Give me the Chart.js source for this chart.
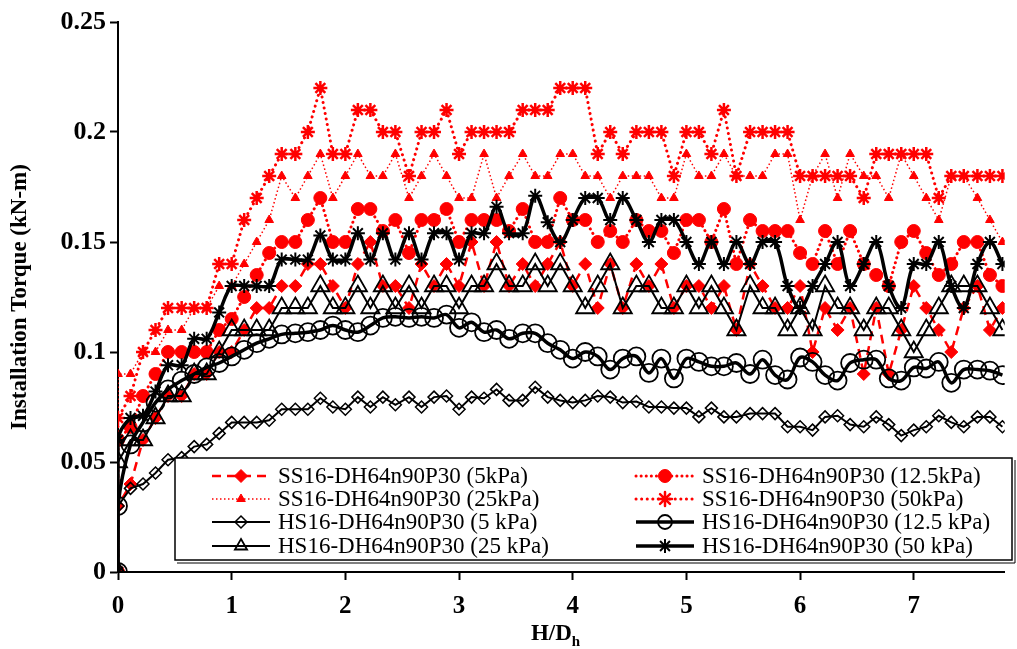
<!DOCTYPE html>
<html>
<head>
<meta charset="utf-8">
<script src="https://cdn.jsdelivr.net/npm/chart.js@4.4.1/dist/chart.umd.min.js"></script>
<style>
  html, body { margin: 0; padding: 0; background: #fff; }
</style>
</head>
<body>
<canvas id="torqueChart" width="1017" height="649"></canvas>
<script>
// H/Dh depth ratio (first two points both sit on the axis)
const depthRatio = [0, 0,
  0.11, 0.22, 0.33, 0.44, 0.56, 0.67, 0.78, 0.89, 1,
  1.11, 1.22, 1.33, 1.44, 1.56, 1.67, 1.78, 1.89, 2,
  2.11, 2.22, 2.33, 2.44, 2.56, 2.67, 2.78, 2.89, 3,
  3.11, 3.22, 3.33, 3.44, 3.56, 3.67, 3.78, 3.89, 4,
  4.11, 4.22, 4.33, 4.44, 4.56, 4.67, 4.78, 4.89, 5,
  5.11, 5.22, 5.33, 5.44, 5.56, 5.67, 5.78, 5.89, 6,
  6.11, 6.22, 6.33, 6.44, 6.56, 6.67, 6.78, 6.89, 7,
  7.11, 7.22, 7.33, 7.44, 7.56, 7.67, 7.78];

const ss5kPa = [0, 0.03, 0.04, 0.06, 0.07, 0.08, 0.08, 0.09, 0.09, 0.10, 0.10,
  0.11, 0.12, 0.12, 0.13, 0.13, 0.14, 0.14, 0.13, 0.12,
  0.14, 0.15, 0.13, 0.13, 0.12, 0.14, 0.13, 0.14, 0.13,
  0.15, 0.13, 0.15, 0.13, 0.14, 0.13, 0.14, 0.15, 0.13,
  0.14, 0.12, 0.14, 0.12, 0.14, 0.13, 0.14, 0.12, 0.13,
  0.13, 0.12, 0.13, 0.11, 0.14, 0.13, 0.12, 0.12, 0.13,
  0.10, 0.12, 0.11, 0.12, 0.09, 0.12, 0.09, 0.11, 0.13,
  0.12, 0.11, 0.10, 0.12, 0.13, 0.11, 0.12];

const ss12kPa = [0, 0.06, 0.066, 0.08, 0.09, 0.10, 0.10, 0.10, 0.10, 0.11, 0.115,
  0.125, 0.135, 0.145, 0.15, 0.15, 0.16, 0.17, 0.15, 0.15,
  0.165, 0.165, 0.155, 0.16, 0.145, 0.16, 0.16, 0.165, 0.15,
  0.16, 0.16, 0.16, 0.155, 0.165, 0.15, 0.15, 0.17, 0.16,
  0.16, 0.15, 0.155, 0.15, 0.16, 0.155, 0.155, 0.145, 0.16,
  0.16, 0.15, 0.165, 0.14, 0.16, 0.155, 0.155, 0.155, 0.145,
  0.14, 0.155, 0.14, 0.155, 0.14, 0.135, 0.13, 0.15, 0.155,
  0.145, 0.135, 0.14, 0.15, 0.15, 0.135, 0.13];

const ss25kPa = [0, 0.09, 0.09, 0.10, 0.10, 0.11, 0.11, 0.12, 0.12, 0.13, 0.13,
  0.14, 0.15, 0.16, 0.18, 0.17, 0.18, 0.19, 0.17, 0.18,
  0.19, 0.18, 0.18, 0.19, 0.17, 0.18, 0.19, 0.18, 0.17,
  0.17, 0.19, 0.17, 0.18, 0.19, 0.18, 0.18, 0.19, 0.19,
  0.18, 0.18, 0.17, 0.18, 0.18, 0.18, 0.17, 0.17, 0.19,
  0.18, 0.18, 0.19, 0.18, 0.18, 0.18, 0.19, 0.19, 0.16,
  0.18, 0.19, 0.17, 0.19, 0.18, 0.18, 0.17, 0.19, 0.18,
  0.17, 0.16, 0.18, 0.18, 0.17, 0.16, 0.15];

const ss50kPa = [0, 0.07, 0.08, 0.10, 0.11, 0.12, 0.12, 0.12, 0.12, 0.14, 0.14,
  0.16, 0.17, 0.18, 0.19, 0.19, 0.20, 0.22, 0.19, 0.19,
  0.21, 0.21, 0.20, 0.20, 0.18, 0.20, 0.20, 0.21, 0.19,
  0.20, 0.20, 0.20, 0.20, 0.21, 0.21, 0.21, 0.22, 0.22,
  0.22, 0.19, 0.20, 0.19, 0.20, 0.20, 0.20, 0.18, 0.20,
  0.20, 0.19, 0.21, 0.18, 0.20, 0.20, 0.20, 0.20, 0.18,
  0.18, 0.18, 0.18, 0.18, 0.17, 0.19, 0.19, 0.19, 0.19,
  0.19, 0.17, 0.18, 0.18, 0.18, 0.18, 0.18];

const hs5kPa = [0, 0.030, 0.038, 0.040, 0.045, 0.051, 0.052, 0.057, 0.058, 0.063, 0.068,
  0.068, 0.068, 0.069, 0.074, 0.074, 0.074, 0.079, 0.075, 0.074,
  0.0795, 0.075, 0.0795, 0.076, 0.0795, 0.075, 0.0795, 0.080, 0.074,
  0.0795, 0.079, 0.083, 0.078, 0.078, 0.084, 0.0795, 0.078, 0.077,
  0.078, 0.080, 0.0795, 0.077, 0.0775, 0.075, 0.075, 0.0745, 0.0745,
  0.0705, 0.0745, 0.0705, 0.0705, 0.072, 0.072, 0.072, 0.066, 0.066,
  0.0645, 0.0705, 0.071, 0.067, 0.066, 0.0705, 0.067, 0.062, 0.0645,
  0.066, 0.071, 0.068, 0.066, 0.0705, 0.0705, 0.066];

const hs12kPa = [0, 0.030, 0.058, 0.068, 0.077, 0.083, 0.087, 0.090, 0.093, 0.095, 0.098,
  0.101, 0.104, 0.106, 0.108, 0.1085, 0.109, 0.110, 0.112, 0.110,
  0.109, 0.112, 0.1155, 0.116, 0.1155, 0.116, 0.1155, 0.117, 0.111,
  0.1135, 0.109, 0.110, 0.106, 0.1085, 0.1085, 0.104, 0.101, 0.097,
  0.100, 0.098, 0.092, 0.097, 0.098, 0.0905, 0.097, 0.088, 0.097,
  0.0955, 0.0935, 0.0935, 0.095, 0.090, 0.0965, 0.0895, 0.0875, 0.0975,
  0.0955, 0.0895, 0.087, 0.095, 0.0965, 0.0965, 0.088, 0.087, 0.093,
  0.0925, 0.0955, 0.086, 0.092, 0.092, 0.0915, 0.0895];

const hs25kPa = [0, 0.05, 0.06, 0.06, 0.07, 0.08, 0.08, 0.09, 0.09, 0.10, 0.11,
  0.11, 0.11, 0.11, 0.12, 0.12, 0.12, 0.13, 0.12, 0.12,
  0.13, 0.12, 0.13, 0.12, 0.13, 0.12, 0.13, 0.13, 0.12,
  0.13, 0.13, 0.14, 0.13, 0.13, 0.14, 0.13, 0.14, 0.13,
  0.12, 0.13, 0.14, 0.12, 0.13, 0.13, 0.12, 0.12, 0.13,
  0.12, 0.13, 0.12, 0.11, 0.13, 0.12, 0.12, 0.11, 0.12,
  0.11, 0.13, 0.12, 0.12, 0.11, 0.12, 0.12, 0.11, 0.10,
  0.11, 0.12, 0.13, 0.13, 0.13, 0.12, 0.11];

const hs50kPa = [0, 0.06, 0.07, 0.071, 0.082, 0.094, 0.094, 0.106, 0.106, 0.118, 0.13,
  0.13, 0.13, 0.13, 0.142, 0.142, 0.142, 0.153, 0.142, 0.142,
  0.154, 0.142, 0.154, 0.142, 0.154, 0.142, 0.154, 0.154, 0.142,
  0.154, 0.154, 0.166, 0.154, 0.154, 0.171, 0.159, 0.15, 0.16,
  0.17, 0.17, 0.16, 0.17, 0.16, 0.15, 0.16, 0.16, 0.15,
  0.14, 0.15, 0.14, 0.15, 0.14, 0.15, 0.15, 0.13, 0.12,
  0.13, 0.14, 0.15, 0.13, 0.14, 0.15, 0.13, 0.12, 0.14,
  0.14, 0.15, 0.13, 0.12, 0.14, 0.15, 0.14];

const seriesLabels = [
  "SS16-DH64n90P30 (5kPa)",
  "SS16-DH64n90P30 (12.5kPa)",
  "SS16-DH64n90P30 (25kPa)",
  "SS16-DH64n90P30 (50kPa)",
  "HS16-DH64n90P30 (5 kPa)",
  "HS16-DH64n90P30 (12.5 kPa)",
  "HS16-DH64n90P30 (25 kPa)",
  "HS16-DH64n90P30 (50 kPa)",
];

const xTicks = [0, 1, 2, 3, 4, 5, 6, 7];
const xTickLabels = ["0", "1", "2", "3", "4", "5", "6", "7"];
const yTicks = [0, 0.05, 0.1, 0.15, 0.2, 0.25];
const yTickLabels = ["0", "0.05", "0.1", "0.15", "0.2", "0.25"];

const serif = "'Liberation Serif', 'Times New Roman', serif";
const red = "#ff0000";
const clear = "rgba(0,0,0,0)";

const toPoints = (values) => values.map((v, i) => ({ x: depthRatio[i], y: v }));

const datasets = [
  {
    label: seriesLabels[0], data: toPoints(ss5kPa),
    borderColor: red, borderWidth: 2.5, borderDash: [9, 6],
    pointStyle: "rectRot", pointRadius: 6.5, pointBackgroundColor: red, pointBorderColor: red, pointBorderWidth: 1,
  },
  {
    label: seriesLabels[1], data: toPoints(ss12kPa),
    borderColor: red, borderWidth: 3, borderDash: [0.1, 5], borderCapStyle: "round",
    pointStyle: "circle", pointRadius: 6.5, pointBackgroundColor: red, pointBorderColor: red, pointBorderWidth: 1,
  },
  {
    label: seriesLabels[2], data: toPoints(ss25kPa),
    borderColor: red, borderWidth: 1.5, borderDash: [1.5, 2.5],
    pointStyle: "triangle", pointRadius: 5, pointBackgroundColor: red, pointBorderColor: red, pointBorderWidth: 1,
  },
  {
    label: seriesLabels[3], data: toPoints(ss50kPa),
    borderColor: red, borderWidth: 3, borderDash: [0.1, 5.5], borderCapStyle: "round",
    pointStyle: "star", pointRadius: 7, pointBackgroundColor: red, pointBorderColor: red, pointBorderWidth: 2.5,
  },
  {
    label: seriesLabels[4], data: toPoints(hs5kPa),
    borderColor: "#000", borderWidth: 2,
    pointStyle: "rectRot", pointRadius: 6, pointBackgroundColor: clear, pointBorderColor: "#000", pointBorderWidth: 1.5,
  },
  {
    label: seriesLabels[5], data: toPoints(hs12kPa),
    borderColor: "#000", borderWidth: 3.5, tension: 0.35,
    pointStyle: "circle", pointRadius: 9, pointBackgroundColor: clear, pointBorderColor: "#000", pointBorderWidth: 1.8,
  },
  {
    label: seriesLabels[6], data: toPoints(hs25kPa),
    borderColor: "#000", borderWidth: 2,
    pointStyle: "triangle", pointRadius: 10.5, pointBackgroundColor: clear, pointBorderColor: "#000", pointBorderWidth: 1.8,
  },
  {
    label: seriesLabels[7], data: toPoints(hs50kPa),
    borderColor: "#000", borderWidth: 3.5, tension: 0.35,
    pointStyle: "star", pointRadius: 7, pointBackgroundColor: "#000", pointBorderColor: "#000", pointBorderWidth: 2,
  },
];

// later series sit on top, like the spreadsheet original
datasets.forEach((ds, i) => {
  ds.order = datasets.length - i;
  ds.fill = false;
});

const legendBox = { left: 175, top: 458, right: 1012, bottom: 560 };
const legendCols = [212, 636];
const legendRows = [476, 499, 522, 546];
const sampleLength = 58;

const insideLegend = {
  id: "insideLegend",
  afterDatasetsDraw(chart) {
    const ctx = chart.ctx;
    const b = legendBox;
    ctx.save();
    ctx.fillStyle = "#fff";
    ctx.fillRect(b.left, b.top, b.right - b.left, b.bottom - b.top);
    ctx.strokeStyle = "#000";
    ctx.lineWidth = 1.5;
    ctx.strokeRect(b.left, b.top, b.right - b.left, b.bottom - b.top);
    ctx.beginPath();
    ctx.moveTo(b.left + 2, b.bottom + 3);
    ctx.lineTo(b.right + 3, b.bottom + 3);
    ctx.lineTo(b.right + 3, b.top + 2);
    ctx.lineWidth = 1;
    ctx.stroke();

    chart.data.datasets.forEach((ds, i) => {
      const x0 = legendCols[i % 2];
      const y = legendRows[Math.floor(i / 2)];
      ctx.save();
      ctx.strokeStyle = ds.borderColor;
      ctx.lineWidth = ds.borderWidth;
      ctx.lineCap = ds.borderCapStyle || "butt";
      ctx.setLineDash(ds.borderDash || []);
      ctx.beginPath();
      ctx.moveTo(x0, y);
      ctx.lineTo(x0 + sampleLength, y);
      ctx.stroke();
      ctx.setLineDash([]);
      ctx.fillStyle = ds.pointBackgroundColor;
      ctx.strokeStyle = ds.pointBorderColor;
      ctx.lineWidth = ds.pointBorderWidth;
      const r = Math.min(ds.pointRadius, 7);
      Chart.helpers.drawPoint(ctx, { pointStyle: ds.pointStyle, radius: r, rotation: 0, borderWidth: ds.pointBorderWidth }, x0 + sampleLength / 2, y);
      ctx.restore();

      ctx.fillStyle = "#000";
      ctx.font = "23px " + serif;
      ctx.textBaseline = "middle";
      ctx.textAlign = "left";
      ctx.fillText(ds.label, x0 + sampleLength + 8, y + 1);
    });

    // x title with the subscript h
    const xa = chart.scales.x;
    const cx = (xa.left + xa.right) / 2 - 10;
    const ty = 634;
    ctx.fillStyle = "#000";
    ctx.textBaseline = "middle";
    ctx.font = "bold 23px " + serif;
    const main = "H/D";
    const w = ctx.measureText(main).width;
    ctx.textAlign = "left";
    ctx.fillText(main, cx - w / 2, ty);
    ctx.font = "bold 15px " + serif;
    ctx.fillText("h", cx + w / 2, ty + 8);
    ctx.restore();
  },
};

new Chart(document.getElementById("torqueChart"), {
  type: "line",
  data: { datasets: datasets },
  options: {
    responsive: false,
    animation: false,
    layout: { padding: { top: 22, right: 0, left: 0, bottom: 0 } },
    plugins: {
      legend: { display: false },
      tooltip: { enabled: false },
    },
    scales: {
      x: {
        type: "linear",
        min: 0,
        max: 7.8,
        afterBuildTicks: (scale) => {
          scale.ticks = xTicks.map((v) => ({ value: v }));
        },
        afterFit: (scale) => {
          scale.height = 77;
        },
        ticks: {
          callback: (value, index) => xTickLabels[index],
          color: "#000",
          padding: 12,
          maxRotation: 0,
          font: { family: serif, size: 25, weight: "bold" },
        },
        grid: {
          drawOnChartArea: false,
          drawTicks: true,
          tickLength: 8,
          tickColor: "#000",
          tickWidth: 2,
        },
        border: { color: "#000", width: 2 },
      },
      y: {
        type: "linear",
        min: 0,
        max: 0.25,
        afterBuildTicks: (scale) => {
          scale.ticks = yTicks.map((v) => ({ value: v }));
        },
        afterFit: (scale) => {
          scale.width = 118;
        },
        ticks: {
          callback: (value, index) => yTickLabels[index],
          color: "#000",
          padding: 4,
          font: { family: serif, size: 26, weight: "bold" },
        },
        grid: {
          drawOnChartArea: false,
          drawTicks: true,
          tickLength: 8,
          tickColor: "#000",
          tickWidth: 2,
        },
        border: { color: "#000", width: 2 },
        title: {
          display: true,
          text: "Installation Torque (kN-m)",
          color: "#000",
          padding: { top: 6, bottom: 0 },
          font: { family: serif, size: 23, weight: "bold" },
        },
      },
    },
  },
  plugins: [insideLegend],
});
</script>
</body>
</html>
